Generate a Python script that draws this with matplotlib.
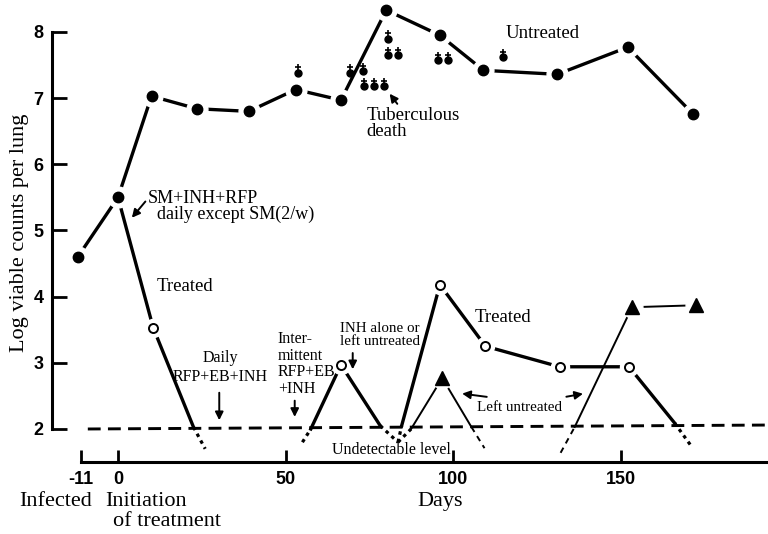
import matplotlib
matplotlib.use("Agg")
import matplotlib.pyplot as plt
from matplotlib.transforms import offset_copy

plt.rcParams["axes.unicode_minus"] = False

### Data (days, log viable counts per lung) ----------------------

# Untreated mice (filled circles)
untreated_days = [-12, 0, 10, 23.5, 39, 53, 66.5, 80, 96, 109, 131, 152, 171.5]
untreated_vals = [4.6, 5.5, 7.03, 6.84, 6.8, 7.13, 6.97, 8.33, 7.95, 7.42, 7.36, 7.77, 6.76]

# Tuberculous deaths
death_days = [53.6, 69.2, 73.0, 73.4, 76.3, 79.3, 80.5, 80.5, 83.5, 95.5, 98.5, 114.7]
death_vals = [7.38, 7.38, 7.41, 7.18, 7.18, 7.18, 7.9, 7.65, 7.65, 7.57, 7.57, 7.62]

# Treated mice (open circles), split in solid and dotted pieces
treated1_days = [0, 10.5, 22.5]
treated1_vals = [5.5, 3.53, 2.03]
treated1_tail_days = [22.5, 26]
treated1_tail_vals = [2.03, 1.7]

treated2_head_days = [55, 57.5]
treated2_head_vals = [1.8, 2.0]
treated2_days = [57.5, 66.5, 78.2]
treated2_vals = [2.0, 2.97, 2.05]
treated2_tail_days = [78.2, 83.5]
treated2_tail_vals = [2.05, 1.8]

treated3_head_days = [83.5, 84.6]
treated3_head_vals = [1.8, 2.05]
treated3_days = [84.6, 96, 109.6, 131.7, 152.4, 166]
treated3_vals = [2.05, 4.18, 3.25, 2.94, 2.94, 2.09]
treated3_tail_days = [166, 170.7]
treated3_tail_vals = [2.09, 1.76]

treated_point_days = [10.5, 66.5, 96, 109.6, 131.7, 152.4]
treated_point_vals = [3.53, 2.97, 4.18, 3.25, 2.94, 2.94]

# Left untreated after relapse (filled triangles)
left1_head_days = [83.5, 87.4]
left1_head_vals = [1.8, 2.0]
left1_days = [87.4, 96.7, 105.4]
left1_vals = [2.0, 2.77, 2.03]
left1_tail_days = [105.4, 109.3]
left1_tail_vals = [2.03, 1.71]

left2_head_days = [132, 136.2]
left2_head_vals = [1.64, 2.03]
left2_days = [136.2, 153.3, 172.5]
left2_vals = [2.03, 3.84, 3.87]

triangle_days = [96.7, 153.3, 172.5]
triangle_vals = [2.77, 3.84, 3.87]

# Detection limit
limit_days = [-9, 195]
limit_vals = [2.0, 2.06]

x_ticks = [-11, 0, 50, 100, 150]
y_ticks = [2, 3, 4, 5, 6, 7, 8]

## Plot ----------------------------------------------------------

serif = "Liberation Serif"
fig = plt.figure(figsize=(7.68, 5.34), dpi=100)
ax = fig.add_axes([0, 0, 1, 1])
ax.set_xlim(-35.19, 193.85)
ax.set_ylim(0.413, 8.483)

thick = 2.4
thin = 1.4
dotted = (0, (1.1, 1.3))
arrow = dict(arrowstyle="-|>", color="black", lw=1.4, mutation_scale=12)

# detection limit
ax.plot(limit_days, limit_vals, color="black", lw=2.1, dashes=(4.4, 2.5), zorder=1)

# untreated
ax.plot(untreated_days, untreated_vals, color="black", lw=thick, zorder=2)

# treated
ax.plot(treated1_days, treated1_vals, color="black", lw=thick, zorder=2)
ax.plot(treated2_days, treated2_vals, color="black", lw=thick, zorder=2)
ax.plot(treated3_days, treated3_vals, color="black", lw=thick, zorder=2)
for d, v in [(treated1_tail_days, treated1_tail_vals),
             (treated2_head_days, treated2_head_vals),
             (treated2_tail_days, treated2_tail_vals),
             (treated3_head_days, treated3_head_vals),
             (treated3_tail_days, treated3_tail_vals),
             (left1_head_days, left1_head_vals)]:
    ax.plot(d, v, color="black", lw=2.3, linestyle=dotted, zorder=2)

# left untreated
ax.plot(left1_days, left1_vals, color="black", lw=thin, zorder=2)
ax.plot(left2_days, left2_vals, color="black", lw=thin, zorder=2)
ax.plot(left1_tail_days, left1_tail_vals, color="black", lw=thin, dashes=(3, 2.5), zorder=2)
ax.plot(left2_head_days, left2_head_vals, color="black", lw=thin, dashes=(3, 2.5), zorder=2)

# white halos so lines stop short of markers
ax.plot(untreated_days, untreated_vals, "o", ms=15, color="white", zorder=3)
ax.plot(treated_point_days, treated_point_vals, "o", ms=13, color="white", zorder=3)
ax.plot(triangle_days, triangle_vals, "o", ms=15, color="white", zorder=3)

# markers
ax.plot(untreated_days, untreated_vals, "o", ms=7.5, color="black", zorder=4)
ax.plot(treated_point_days, treated_point_vals, "o", ms=6.5, mfc="white",
        mec="black", mew=1.4, zorder=4)
ax.plot(triangle_days, triangle_vals, "^", ms=10, color="black", zorder=4)

# tuberculous deaths: small dot with a cross above it
ax.plot(death_days, death_vals, "o", ms=5, color="black", zorder=4)
cross = offset_copy(ax.transData, fig=fig, x=0, y=5.5, units="dots")
ax.plot(death_days, death_vals, "+", ms=4.5, mew=1.2, color="black",
        transform=cross, zorder=4)

# axes
for s in ["top", "right"]:
    ax.spines[s].set_visible(False)
ax.spines["left"].set_position(("data", -19.76))
ax.spines["left"].set_bounds(2, 8)
ax.spines["bottom"].set_position(("data", 1.506))
ax.spines["bottom"].set_bounds(-11, 193.85)
ax.spines["left"].set_linewidth(2.2)
ax.spines["bottom"].set_linewidth(2.2)
ax.set_xticks(x_ticks)
ax.set_yticks(y_ticks)
ax.tick_params(axis="y", direction="in", length=11, width=2, pad=6)
ax.tick_params(axis="x", direction="in", length=9, width=2, pad=7)
for lab in ax.get_xticklabels() + ax.get_yticklabels():
    lab.set_fontfamily("Liberation Sans")
    lab.set_fontweight("bold")
    lab.set_fontsize(13)

ax.text(-29.3, 4.96, "Log viable counts per lung", rotation=90, ha="center",
        va="center", fontsize=16, family=serif)
ax.text(-18.6, 0.9, "Infected", ha="center", va="center", fontsize=16, family=serif)
ax.text(-3.9, 0.9, "Initiation", ha="left", va="center", fontsize=16, family=serif)
ax.text(-1.5, 0.6, "of treatment", ha="left", va="center", fontsize=16, family=serif)
ax.text(96.1, 0.9, "Days", ha="center", va="center", fontsize=16, family=serif)

# annotations
ax.text(126.6, 7.98, "Untreated", ha="center", va="center", fontsize=13.5, family=serif)
ax.text(74, 6.62, "Tuberculous\ndeath", ha="left", va="center", fontsize=13.5,
        family=serif, linespacing=0.95)
ax.annotate("", xy=(80.5, 7.1), xytext=(83.8, 6.88), arrowprops=arrow)
ax.text(9.0, 5.36, "SM+INH+RFP\n  daily except SM(2/w)", ha="left", va="center",
        fontsize=13, family=serif, linespacing=0.85)
ax.annotate("", xy=(3.6, 5.16), xytext=(8.7, 5.47), arrowprops=arrow)
ax.text(20, 4.15, "Treated", ha="center", va="center", fontsize=13.5, family=serif)
ax.text(114.7, 3.69, "Treated", ha="center", va="center", fontsize=13.5, family=serif)

ax.text(30.5, 2.93, "Daily\nRFP+EB+INH", ha="center", va="center", fontsize=11.5,
        family=serif, linespacing=1.3)
ax.annotate("", xy=(30.2, 2.09), xytext=(30.2, 2.59), arrowprops=arrow)
ax.text(47.7, 2.98, "Inter-\nmittent\nRFP+EB\n+INH", ha="left", va="center",
        fontsize=11.5, family=serif, linespacing=1.05)
ax.annotate("", xy=(52.7, 2.14), xytext=(52.7, 2.47), arrowprops=arrow)
ax.text(66.3, 3.42, "INH alone or\nleft untreated", ha="left", va="center",
        fontsize=10.8, family=serif, linespacing=1.05)
ax.annotate("", xy=(70, 2.86), xytext=(70, 3.19), arrowprops=arrow)
ax.text(119.8, 2.33, "Left untreated", ha="center", va="center", fontsize=10.8, family=serif)
ax.annotate("", xy=(101.8, 2.54), xytext=(110.8, 2.48), arrowprops=arrow)
ax.annotate("", xy=(139.5, 2.54), xytext=(132.9, 2.48), arrowprops=arrow)
ax.text(81.4, 1.68, "Undetectable level", ha="center", va="center", fontsize=11.5,
        family=serif)

fig.savefig("out.png", dpi=100)
